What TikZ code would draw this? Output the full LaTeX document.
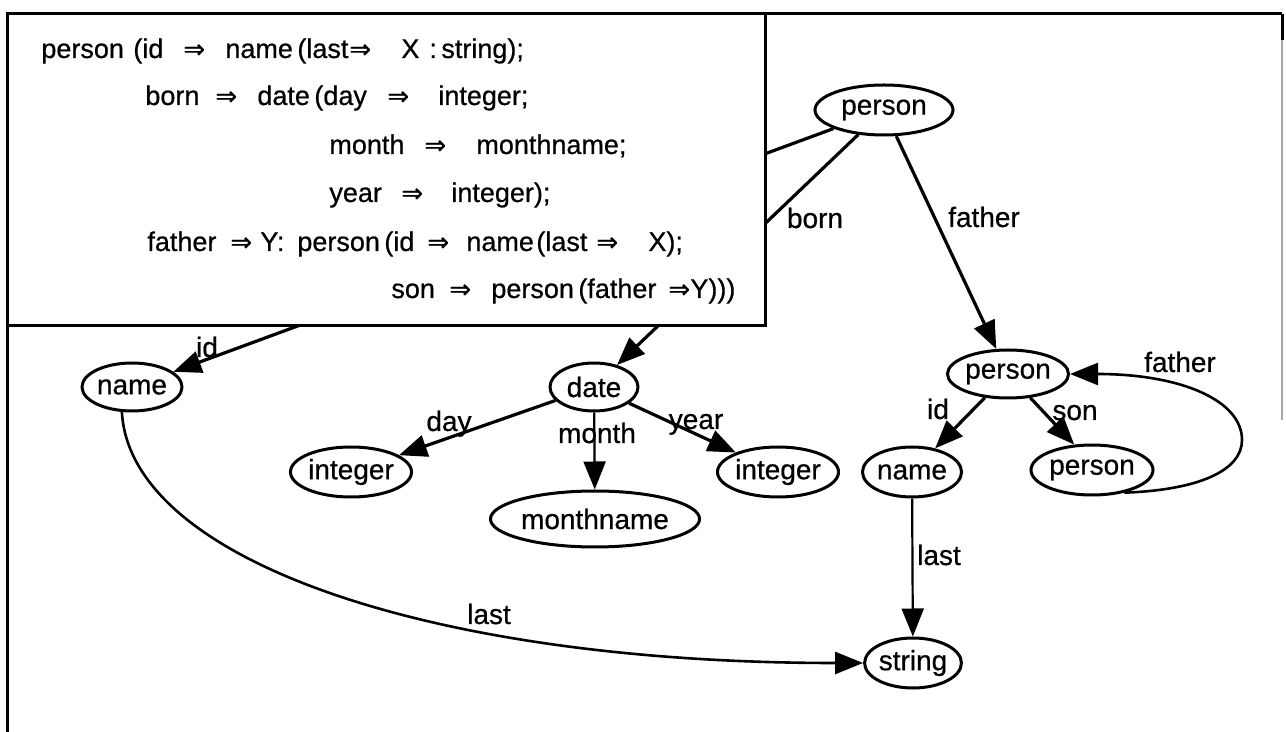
\documentclass[tikz,border=0pt]{standalone}
\usepackage{fontspec}
\setmainfont{Liberation Sans}[FakeBold=0.6]
\newfontfamily\arrowfont{DejaVu Sans}[FakeBold=0.4]
\usetikzlibrary{shapes.geometric,arrows.meta}
\newcommand\tk[2]{\makebox[0pt][l]{\hspace*{#1pt}#2}}
\newcommand\impl{{\arrowfont\fontsize{13}{13}\selectfont ⇒}}
\begin{document}
\begin{tikzpicture}[x=0.5pt, y=-0.5pt,
  ell/.style={draw, ellipse, line width=1.5pt, inner sep=0, font=\fontsize{14}{14}\selectfont},
  lbl/.style={inner sep=0, anchor=base, font=\fontsize{14}{14}\selectfont},
  edgeline/.style={line width=1.6pt, -{Triangle[length=14pt,width=11pt]}},
  thinedge/.style={line width=1.1pt, -{Triangle[length=14pt,width=11pt]}},
  boxline/.style={inner sep=0, anchor=base west, font=\fontsize{13.5}{13.5}\selectfont}]
\useasboundingbox (0,0) rectangle (1286,732);
% outer frame
\draw[line width=1.5pt] (7,732) -- (7,14) -- (1282,14);
\draw[line width=1pt, black!35] (1282,14) -- (1282,420);
\draw[line width=1.5pt] (1282,14) -- (1282,40);
% nodes
\node[ell, minimum width=69pt, minimum height=25pt] (p1) at (884,110) {person};
\node[ell, minimum width=50pt, minimum height=24pt] (nm1) at (132,387) {name};
\node[ell, minimum width=44pt, minimum height=24pt] (dt) at (594,387) {date};
\node[ell, minimum width=54pt, minimum height=25pt] (int1) at (351,472) {integer};
\node[ell, minimum width=87pt, minimum height=28pt] (mn) at (595,519) {monthname};
\node[ell, minimum width=57pt, minimum height=25pt] (int2) at (778,472) {integer};
\node[ell, minimum width=60pt, minimum height=24pt] (p2) at (1008,374) {person};
\node[ell, minimum width=49pt, minimum height=25pt] (nm2) at (912,472) {name};
\node[ell, minimum width=61pt, minimum height=25pt] (p3) at (1092,470) {person};
\node[ell, minimum width=48pt, minimum height=25pt] (str) at (913,663) {string};
% edges
\draw[edgeline] (p1) -- (nm1);
\draw[edgeline] (p1) -- (dt);
\draw[edgeline] (p1) -- (p2);
\draw[edgeline] (dt) -- (int1);
\draw[thinedge] (dt) -- (mn);
\draw[edgeline] (dt) -- (int2);
\draw[edgeline] (p2) -- (nm2);
\draw[edgeline] (p2) -- (p3.125);
\draw[thinedge] (nm2) -- (str);
\draw[thinedge, line width=1.3pt] (p3.-35) .. controls (1200,490) and (1242,470) .. (1242,440) .. controls (1242,400) and (1180,374) .. (p2.east);
\draw[thinedge, line width=1.3pt] (nm1.-112) .. controls (130,560) and (430,663) .. (str.west);
% labels
\node[lbl] (lid1) at (207,357) {id};
\node[lbl] (lborn) at (815,228) {born};
\node[lbl] (lfa1) at (984,227) {father};
\node[lbl] (lday) at (449,431) {day};
\node[lbl] (lmonth) at (597,443) {month};
\node[lbl] (lyear) at (696,429) {year};
\node[lbl] (lid2) at (938,419) {id};
\node[lbl] (lson) at (1075,420) {son};
\node[lbl] (lfa2) at (1180,372) {father};
\node[lbl] (llast2) at (939,565) {last};
\node[lbl] (llast1) at (489,624) {last};
% text box
\draw[line width=1.5pt, fill=white] (7,14) rectangle (765,326);
\node[boxline] (t1) at (40,58) {\tk{0}{person}\tk{46}{(id}\tk{71}{\impl}\tk{92}{name}\tk{128}{(last}\tk{154}{\impl}\tk{180}{X}\tk{194}{:}\tk{200}{string);}};
\node[boxline] (t2) at (144,105) {\tk{0}{born}\tk{35}{\impl}\tk{56}{date}\tk{84.5}{(day}\tk{121}{\impl}\tk{146.5}{integer;}};
\node[boxline] (t3) at (328,154) {\tk{0}{month}\tk{47.5}{\impl}\tk{73.5}{monthname;}};
\node[boxline] (t4) at (328,202) {\tk{0}{year}\tk{36}{\impl}\tk{61}{integer);}};
\node[boxline] (t5) at (146,251) {\tk{0}{father}\tk{41.5}{\impl}\tk{56.5}{Y:}\tk{75}{person}\tk{118.5}{(id}\tk{140}{\impl}\tk{159.5}{name}\tk{194.5}{(last}\tk{224.5}{\impl}\tk{250.5}{X);}};
\node[boxline] (t6) at (390,298) {\tk{0}{son}\tk{29}{\impl}\tk{50}{person}\tk{93.5}{(father}\tk{138.5}{\impl}\tk{149.5}{Y)))}};
\end{tikzpicture}
\end{document}
